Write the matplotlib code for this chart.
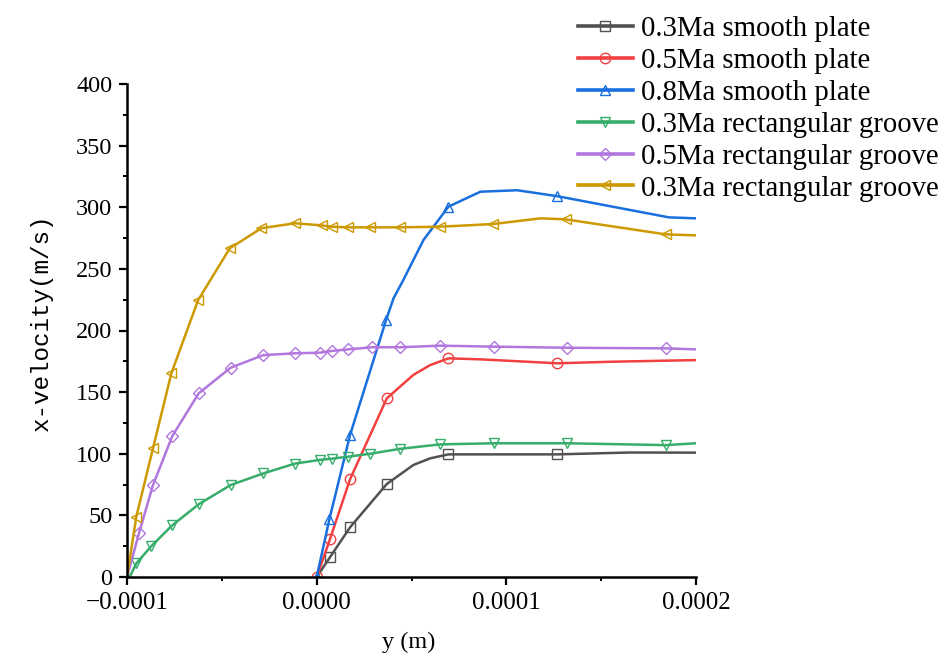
import numpy as np
import matplotlib
matplotlib.use("Agg")
import matplotlib.pyplot as plt
from matplotlib.ticker import MultipleLocator, FuncFormatter

# x positions in units of 1e-4 m, velocities in m/s
labels = ["0.3Ma smooth plate", "0.5Ma smooth plate", "0.8Ma smooth plate",
          "0.3Ma rectangular groove", "0.5Ma rectangular groove", "0.3Ma rectangular groove"]
colors = ["#515151", "#F14040", "#1A6FDF", "#37AD6B", "#B177DE", "#CC9900"]
markers = ["s", "o", "^", "v", "D", "<"]

x_s03 = [0, 0.070, 0.176, 0.370, 0.510, 0.599, 0.695, 1.268, 1.65, 2.0]
v_s03 = [0, 16, 40.3, 75.5, 90.9, 96.3, 99.5, 99.5, 101, 100.9]
m_s03 = [1, 2, 3, 6, 7]

x_s05 = [0, 0.070, 0.176, 0.370, 0.510, 0.599, 0.695, 0.863, 1.268, 1.565, 2.0]
v_s05 = [0, 30.6, 79.3, 145, 164, 172, 177.4, 176.6, 173.4, 174.7, 176]
m_s05 = [0, 1, 2, 3, 6, 8]

x_s08 = [0, 0.067, 0.176, 0.366, 0.405, 0.457, 0.563, 0.695, 0.863, 1.057, 1.268, 1.857, 2.0]
v_s08 = [0, 46.8, 115.2, 208.5, 226, 241, 273.4, 300.5, 312.6, 313.8, 309, 291.8, 291]
m_s08 = [0, 1, 2, 3, 7, 10]

x_g03 = [-0.986, -0.951, -0.872, -0.761, -0.622, -0.454, -0.282, -0.115, 0.017, 0.079,
         0.165, 0.282, 0.440, 0.651, 0.933, 1.321, 1.840, 2.0]
v_g03 = [0, 11, 25, 42, 59, 74.6, 84, 92, 95, 96, 97.6, 100, 104, 107.6, 108.5, 108.5, 107, 108.5]
m_g03 = list(range(1, 17))

x_g05 = [-1.0, -0.937, -0.863, -0.761, -0.622, -0.454, -0.282, -0.115, 0.017, 0.079,
         0.167, 0.291, 0.440, 0.651, 0.933, 1.321, 1.840, 2.0]
v_g05 = [0, 35.4, 74.6, 114.4, 149, 169.8, 180, 181.5, 182, 183.4, 184.7, 186.4, 186.4,
         187.7, 186.9, 186, 185.5, 184.7]
m_g05 = list(range(1, 17))

x_g03b = [-1.0, -0.951, -0.863, -0.766, -0.625, -0.458, -0.291, -0.115, 0.026, 0.079,
          0.165, 0.282, 0.440, 0.651, 0.931, 1.180, 1.312, 1.840, 2.0]
v_g03b = [0, 48.9, 104.4, 165.3, 224.7, 266.7, 283, 287, 285.3, 284.2, 283.7, 283.7,
          283.7, 284.2, 286.4, 291, 290.2, 278, 277.2]
m_g03b = [1, 2, 3, 4, 5, 6, 7, 8, 9, 10, 11, 12, 13, 14, 16, 17]

series = [(x_s03, v_s03, m_s03), (x_s05, v_s05, m_s05), (x_s08, v_s08, m_s08),
          (x_g03, v_g03, m_g03), (x_g05, v_g05, m_g05), (x_g03b, v_g03b, m_g03b)]

fig = plt.figure(figsize=(9.5, 6.62), dpi=100)
ax = fig.add_axes([127/950, 1-577/662, (696-127)/950, (577-84)/662])

handles = []
for (xs, vs, ms), lab, c, mk in zip(series, labels, colors, markers):
    h, = ax.plot(np.array(xs) * 1e-4, vs, color=c, lw=1.8, marker=mk, markevery=ms,
                 markersize=7.5 if mk != "D" else 6.5, markerfacecolor="none",
                 markeredgecolor=c, markeredgewidth=1.0, label=lab)
    handles.append(h)

ax.set_xlim(-0.0001, 0.0002)
ax.set_ylim(0, 400)
ax.xaxis.set_major_locator(MultipleLocator(0.0001))
ax.xaxis.set_minor_locator(MultipleLocator(0.00005))
ax.yaxis.set_major_locator(MultipleLocator(50))
ax.yaxis.set_minor_locator(MultipleLocator(25))


def xfmt(v, p):
    if abs(v) < 1e-12:
        return "0.0000"
    s = "%.4f" % v
    return s.replace("-", "\u2212")


ax.xaxis.set_major_formatter(FuncFormatter(xfmt))

for s in ["top", "right"]:
    ax.spines[s].set_visible(False)
for s in ["left", "bottom"]:
    ax.spines[s].set_linewidth(1.8)
ax.tick_params(which="major", direction="out", length=5.5, width=1.6, pad=5)
ax.tick_params(which="minor", direction="out", length=3, width=1.4)
for lab in ax.get_xticklabels():
    lab.set_fontfamily("Liberation Serif")
    lab.set_fontsize(18)
for lab in ax.get_yticklabels():
    lab.set_fontfamily("Liberation Serif")
    lab.set_fontsize(17.5)

fig.text(41/950, 1-322/662, "x-velocity(m/s)", rotation=90, ha="center", va="center",
         family="Liberation Mono", fontsize=17.5)
fig.text(409/950, 1-642/662, "y (m)", ha="center", va="center",
         family="Liberation Serif", fontsize=17.5)

leg = fig.legend(handles=handles, labels=labels, loc="upper left",
                 bbox_to_anchor=(578/950, 1-16/662), frameon=False, borderpad=0,
                 borderaxespad=0, handlelength=1.9, handletextpad=0.3, labelspacing=0.2,
                 prop={"family": "Liberation Serif", "size": 20.7})
for ln in leg.get_lines():
    ln.set_linewidth(2.6)

fig.savefig("out.png", dpi=100)
